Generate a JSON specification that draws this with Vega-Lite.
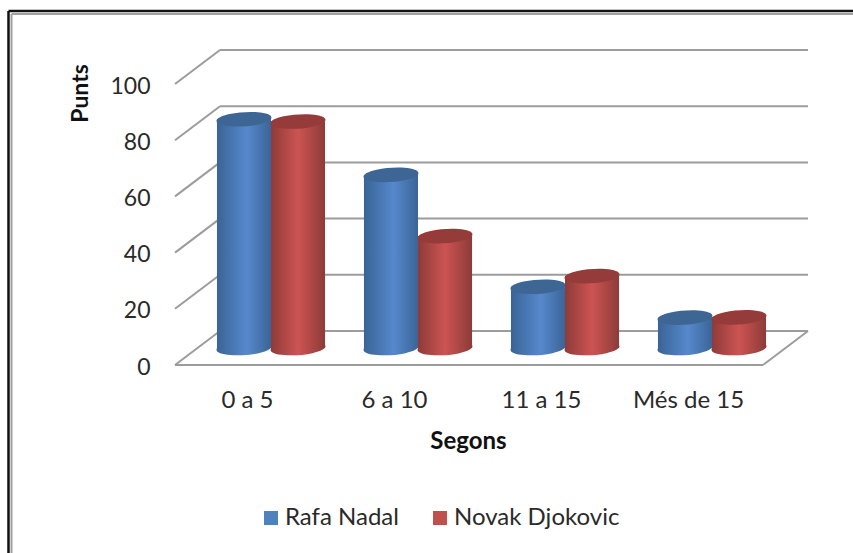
{
"$schema":"https://vega.github.io/schema/vega-lite/v6.json",
"width":588,"height":281,
"autosize":{"type":"none"},
"padding":{"left":175,"top":84,"right":90,"bottom":188},
"background":"#ffffff",
"config":{"view":{"stroke":null},"font":"Lato"},
"datasets":{
"bars":[
{"temps":"0 a 5","jugador":"Rafa Nadal","punts":81.4},
{"temps":"0 a 5","jugador":"Novak Djokovic","punts":80.6},
{"temps":"6 a 10","jugador":"Rafa Nadal","punts":61.6},
{"temps":"6 a 10","jugador":"Novak Djokovic","punts":39.8},
{"temps":"11 a 15","jugador":"Rafa Nadal","punts":21.8},
{"temps":"11 a 15","jugador":"Novak Djokovic","punts":25.6},
{"temps":"Més de 15","jugador":"Rafa Nadal","punts":10.8},
{"temps":"Més de 15","jugador":"Novak Djokovic","punts":10.9}
],
"ticks":[{"tick":0},{"tick":20},{"tick":40},{"tick":60},{"tick":80},{"tick":100}]
},
"resolve":{"scale":{"x":"independent"}},
"layer":[
{"data":{"values":[{"linia":"marc"}]},"mark":{"type":"rule","stroke":"#111111","strokeWidth":2.5,"clip":false},
 "encoding":{"x":{"datum":0,"type":"quantitative","scale":{"domain":[0,1],"range":[-166.5,678]},"axis":null},"x2":{"datum":1},
 "y":{"datum":126,"type":"quantitative","scale":{"domain":[0,100],"range":[281,0]},
 "axis":{"title":"Punts","titleFont":"Lato","titleFontWeight":"bold","titleFontSize":23,"titleColor":"#111111","titleX":-95,"titleY":9,"titleAngle":-90,"titleAlign":"center","titleBaseline":"middle","values":[0,20,40,60,80,100],"domain":false,"ticks":false,"grid":false,"labelFont":"Lato","labelFontSize":23,"labelColor":"#2a2a2a","labelPadding":25,"labelOffset":2}},"y2":{"datum":126}}},
{"data":{"values":[{"linia":"marc"}]},"mark":{"type":"rule","stroke":"#111111","strokeWidth":2.5,"clip":false},
 "encoding":{"x":{"datum":0,"type":"quantitative","scale":{"domain":[0,1],"range":[-166.5,-166.5]},"axis":null},"y":{"datum":126,"type":"quantitative"},"y2":{"datum":-67}}},
{"data":{"values":[{"linia":"marc"}]},"mark":{"type":"rule","stroke":"#A0A0A0","strokeWidth":2,"clip":false},
 "encoding":{"x":{"datum":0,"type":"quantitative","scale":{"domain":[0,1],"range":[-163.5,678]},"axis":null},"x2":{"datum":1},"y":{"datum":124.9,"type":"quantitative"},"y2":{"datum":124.9}}},
{"data":{"values":[{"linia":"marc"}]},"mark":{"type":"rule","stroke":"#A0A0A0","strokeWidth":2,"clip":false},
 "encoding":{"x":{"datum":0,"type":"quantitative","scale":{"domain":[0,1],"range":[-163.5,-163.5]},"axis":null},"y":{"datum":124.9,"type":"quantitative"},"y2":{"datum":-67}}},
{"data":{"name":"ticks"},"mark":{"type":"rule","stroke":"#9C9C9C","strokeWidth":2,"yOffset":-34,"y2Offset":-34},
 "encoding":{"x":{"datum":0,"type":"quantitative","scale":{"domain":[0,1],"range":[45,633]},"axis":null},"x2":{"datum":1},
 "y":{"field":"tick","type":"quantitative"},"y2":{"field":"tick"}}},
{"data":{"name":"ticks"},"mark":{"type":"rule","stroke":"#9C9C9C","strokeWidth":2,"y2Offset":-34},
 "encoding":{"x":{"datum":0,"type":"quantitative","scale":{"domain":[0,1],"range":[0,45]},"axis":null},"x2":{"datum":1},"y":{"field":"tick","type":"quantitative"},"y2":{"field":"tick"}}},
{"data":{"values":[{"linia":"base"}]},"mark":{"type":"rule","stroke":"#9C9C9C","strokeWidth":2},
 "encoding":{"x":{"datum":0,"type":"quantitative","scale":{"domain":[0,1],"range":[0,588]},"axis":null},"x2":{"datum":1},"y":{"datum":0,"type":"quantitative"},"y2":{"datum":0}}},
{"data":{"values":[{"linia":"base"}]},"mark":{"type":"rule","stroke":"#9C9C9C","strokeWidth":2,"y2Offset":-34},
 "encoding":{"x":{"datum":0,"type":"quantitative","scale":{"domain":[0,1],"range":[588,633]},"axis":null},"x2":{"datum":1},"y":{"datum":0,"type":"quantitative"},"y2":{"datum":0}}},
{"data":{"name":"bars"},"mark":{"type":"bar","yOffset":-17,"y2Offset":-17},
 "encoding":{"x":{"field":"temps","type":"nominal","sort":null,"scale":{"domain":["0 a 5","6 a 10","11 a 15","Més de 15"],"range":[22.5,610.5],"paddingInner":0.265,"paddingOuter":0.1325},
 "axis":{"title":"Segons","titleFont":"Lato","titleFontWeight":"bold","titleFontSize":24,"titleColor":"#111111","titleX":293,"titleY":76,"titleAlign":"center","titleBaseline":"middle","labelAngle":0,"domain":false,"ticks":false,"labelFont":"Lato","labelFontSize":24,"labelColor":"#2a2a2a","labelPadding":23,"labelOffset":-23.5}},
 "xOffset":{"field":"jugador","type":"nominal","scale":{"domain":["Rafa Nadal","Novak Djokovic"]}},
 "y":{"field":"punts","type":"quantitative","stack":null},"y2":{"datum":0},
 "color":{"field":"jugador","type":"nominal","scale":{"domain":["Rafa Nadal","Novak Djokovic"],"range":["#4F81BD","#C0504D"]},
 "legend":{"title":null,"orient":"none","direction":"horizontal","legendX":84,"legendY":422,"symbolType":"square","symbolSize":196,"symbolStrokeWidth":0,"labelFont":"Lato","labelFontSize":24,"labelColor":"#2a2a2a","labelLimit":300,"columnPadding":29,"labelOffset":2}}}},
{"data":{"name":"bars"},"transform":[{"filter":"datum.jugador === 'Rafa Nadal'"}],"mark":{"type":"point","filled":true,"opacity":1,"size":3025,"yOffset":-17,"shape":"M-0.997,0.07 A1,0.25 -4 1 1 0.997,-0.07 A1,0.25 -4 1 1 -0.997,0.07 Z","fill":{"gradient":"linear","x1":0,"y1":0,"x2":1,"y2":0,"stops":[{"offset":0,"color":"#3A6496"},{"offset":0.55,"color":"#5688CC"},{"offset":1,"color":"#3B6598"}]}},
 "encoding":{"x":{"field":"temps","type":"nominal","sort":null,"scale":{"domain":["0 a 5","6 a 10","11 a 15","Més de 15"],"range":[22.5,610.5],"paddingInner":0.265,"paddingOuter":0.1325},"axis":null},
 "xOffset":{"field":"jugador","type":"nominal","scale":{"domain":["Rafa Nadal","Novak Djokovic"]}},
 "y":{"datum":0,"type":"quantitative"}}},
{"data":{"name":"bars"},"transform":[{"filter":"datum.jugador === 'Rafa Nadal'"}],"mark":{"type":"bar","yOffset":-17,"y2Offset":-17,"fill":{"gradient":"linear","x1":0,"y1":0,"x2":1,"y2":0,"stops":[{"offset":0,"color":"#3A6496"},{"offset":0.55,"color":"#5688CC"},{"offset":1,"color":"#3B6598"}]}},
 "encoding":{"x":{"field":"temps","type":"nominal","sort":null,"scale":{"domain":["0 a 5","6 a 10","11 a 15","Més de 15"],"range":[22.5,610.5],"paddingInner":0.265,"paddingOuter":0.1325},"axis":null},
 "xOffset":{"field":"jugador","type":"nominal","scale":{"domain":["Rafa Nadal","Novak Djokovic"]}},
 "y":{"field":"punts","type":"quantitative","stack":null},"y2":{"datum":0}}},
{"data":{"name":"bars"},"transform":[{"filter":"datum.jugador === 'Rafa Nadal'"}],"mark":{"type":"point","filled":true,"opacity":1,"size":3025,"yOffset":-17,"shape":"M-0.997,0.07 A1,0.25 -4 1 1 0.997,-0.07 A1,0.25 -4 1 1 -0.997,0.07 Z","fill":"#3D6695"},
 "encoding":{"x":{"field":"temps","type":"nominal","sort":null,"scale":{"domain":["0 a 5","6 a 10","11 a 15","Més de 15"],"range":[22.5,610.5],"paddingInner":0.265,"paddingOuter":0.1325},"axis":null},
 "xOffset":{"field":"jugador","type":"nominal","scale":{"domain":["Rafa Nadal","Novak Djokovic"]}},
 "y":{"field":"punts","type":"quantitative"}}},
{"data":{"name":"bars"},"transform":[{"filter":"datum.jugador === 'Novak Djokovic'"}],"mark":{"type":"point","filled":true,"opacity":1,"size":3025,"yOffset":-17,"shape":"M-0.997,0.07 A1,0.25 -4 1 1 0.997,-0.07 A1,0.25 -4 1 1 -0.997,0.07 Z","fill":{"gradient":"linear","x1":0,"y1":0,"x2":1,"y2":0,"stops":[{"offset":0,"color":"#8E3B39"},{"offset":0.5,"color":"#CC5452"},{"offset":1,"color":"#8D3B39"}]}},
 "encoding":{"x":{"field":"temps","type":"nominal","sort":null,"scale":{"domain":["0 a 5","6 a 10","11 a 15","Més de 15"],"range":[22.5,610.5],"paddingInner":0.265,"paddingOuter":0.1325},"axis":null},
 "xOffset":{"field":"jugador","type":"nominal","scale":{"domain":["Rafa Nadal","Novak Djokovic"]}},
 "y":{"datum":0,"type":"quantitative"}}},
{"data":{"name":"bars"},"transform":[{"filter":"datum.jugador === 'Novak Djokovic'"}],"mark":{"type":"bar","yOffset":-17,"y2Offset":-17,"fill":{"gradient":"linear","x1":0,"y1":0,"x2":1,"y2":0,"stops":[{"offset":0,"color":"#8E3B39"},{"offset":0.5,"color":"#CC5452"},{"offset":1,"color":"#8D3B39"}]}},
 "encoding":{"x":{"field":"temps","type":"nominal","sort":null,"scale":{"domain":["0 a 5","6 a 10","11 a 15","Més de 15"],"range":[22.5,610.5],"paddingInner":0.265,"paddingOuter":0.1325},"axis":null},
 "xOffset":{"field":"jugador","type":"nominal","scale":{"domain":["Rafa Nadal","Novak Djokovic"]}},
 "y":{"field":"punts","type":"quantitative","stack":null},"y2":{"datum":0}}},
{"data":{"name":"bars"},"transform":[{"filter":"datum.jugador === 'Novak Djokovic'"}],"mark":{"type":"point","filled":true,"opacity":1,"size":3025,"yOffset":-17,"shape":"M-0.997,0.07 A1,0.25 -4 1 1 0.997,-0.07 A1,0.25 -4 1 1 -0.997,0.07 Z","fill":"#953B39"},
 "encoding":{"x":{"field":"temps","type":"nominal","sort":null,"scale":{"domain":["0 a 5","6 a 10","11 a 15","Més de 15"],"range":[22.5,610.5],"paddingInner":0.265,"paddingOuter":0.1325},"axis":null},
 "xOffset":{"field":"jugador","type":"nominal","scale":{"domain":["Rafa Nadal","Novak Djokovic"]}},
 "y":{"field":"punts","type":"quantitative"}}}
]
}
